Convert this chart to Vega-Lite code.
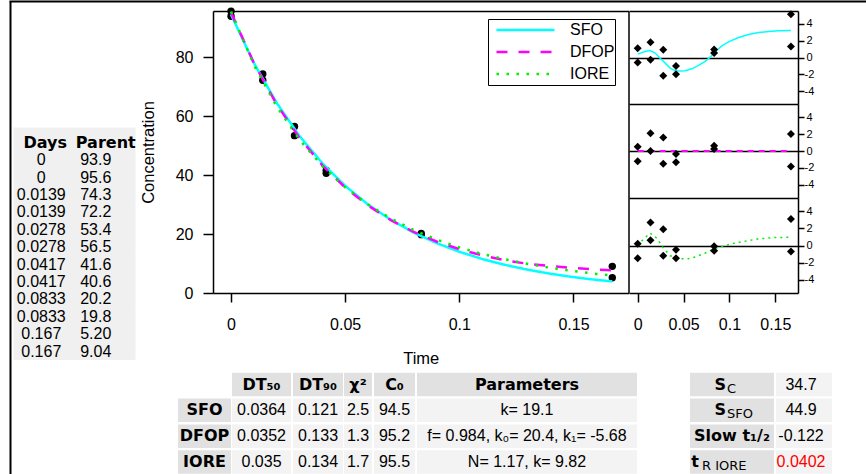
{
  "$schema": "https://vega.github.io/schema/vega-lite/v6.json",
  "width": 866,
  "height": 474,
  "autosize": "none",
  "padding": 0,
  "background": "white",
  "config": {
    "view": {"stroke": null},
    "font": "Liberation Sans",
    "text": {"font": "Liberation Sans", "fontSize": 16, "color": "black"},
    "axis": {
      "labelFont": "Liberation Sans", "titleFont": "Liberation Sans",
      "labelColor": "black", "titleColor": "black", "tickColor": "black", "domainColor": "black",
      "titleFontWeight": "normal", "labelFlush": false, "labelOverlap": false, "labelBound": false,
      "grid": false, "tickWidth": 1.5, "domainWidth": 1.5, "labelFontSize": 16, "titleFontSize": 16.5
    }
  },
  "resolve": {"scale": {"x": "independent", "y": "independent", "color": "independent", "size": "independent", "strokeDash": "independent"}},
  "datasets": {
    "obs": [
      {"i": 1, "Days": 0, "Parent": 93.9},
      {"i": 2, "Days": 0, "Parent": 95.6},
      {"i": 3, "Days": 0.0139, "Parent": 74.3},
      {"i": 4, "Days": 0.0139, "Parent": 72.2},
      {"i": 5, "Days": 0.0278, "Parent": 53.4},
      {"i": 6, "Days": 0.0278, "Parent": 56.5},
      {"i": 7, "Days": 0.0417, "Parent": 41.6},
      {"i": 8, "Days": 0.0417, "Parent": 40.6},
      {"i": 9, "Days": 0.0833, "Parent": 20.2},
      {"i": 10, "Days": 0.0833, "Parent": 19.8},
      {"i": 11, "Days": 0.167, "Parent": 5.20},
      {"i": 12, "Days": 0.167, "Parent": 9.04}
    ],
    "leftHead": [{"col": "Days", "i": 0}, {"col": "Parent", "i": 0}],
    "curves": [
      {"model": "SFO", "t": 0, "C": 94.5}, {"model": "SFO", "t": 0.01, "C": 78.07}, {"model": "SFO", "t": 0.02, "C": 64.5},
      {"model": "SFO", "t": 0.03, "C": 53.28}, {"model": "SFO", "t": 0.04, "C": 44.02}, {"model": "SFO", "t": 0.05, "C": 36.37},
      {"model": "SFO", "t": 0.06, "C": 30.04}, {"model": "SFO", "t": 0.07, "C": 24.82}, {"model": "SFO", "t": 0.08, "C": 20.5},
      {"model": "SFO", "t": 0.09, "C": 16.94}, {"model": "SFO", "t": 0.1, "C": 13.99}, {"model": "SFO", "t": 0.11, "C": 11.56},
      {"model": "SFO", "t": 0.12, "C": 9.55}, {"model": "SFO", "t": 0.13, "C": 7.89}, {"model": "SFO", "t": 0.14, "C": 6.52},
      {"model": "SFO", "t": 0.15, "C": 5.39}, {"model": "SFO", "t": 0.16, "C": 4.45}, {"model": "SFO", "t": 0.167, "C": 3.95},
      {"model": "DFOP", "t": 0, "C": 95.2}, {"model": "DFOP", "t": 0.01, "C": 78.01}, {"model": "DFOP", "t": 0.02, "C": 64.01},
      {"model": "DFOP", "t": 0.03, "C": 52.61}, {"model": "DFOP", "t": 0.04, "C": 43.34}, {"model": "DFOP", "t": 0.05, "C": 35.8},
      {"model": "DFOP", "t": 0.06, "C": 29.69}, {"model": "DFOP", "t": 0.07, "C": 24.73}, {"model": "DFOP", "t": 0.08, "C": 20.72},
      {"model": "DFOP", "t": 0.09, "C": 17.47}, {"model": "DFOP", "t": 0.1, "C": 14.87}, {"model": "DFOP", "t": 0.11, "C": 12.77},
      {"model": "DFOP", "t": 0.12, "C": 11.11}, {"model": "DFOP", "t": 0.13, "C": 9.9}, {"model": "DFOP", "t": 0.14, "C": 9.1},
      {"model": "DFOP", "t": 0.15, "C": 8.5}, {"model": "DFOP", "t": 0.16, "C": 8.0}, {"model": "DFOP", "t": 0.167, "C": 7.7},
      {"model": "IORE", "t": 0, "C": 95.5}, {"model": "IORE", "t": 0.01, "C": 77.46}, {"model": "IORE", "t": 0.02, "C": 63.27},
      {"model": "IORE", "t": 0.03, "C": 52.03}, {"model": "IORE", "t": 0.04, "C": 43.06}, {"model": "IORE", "t": 0.05, "C": 35.86},
      {"model": "IORE", "t": 0.06, "C": 30.02}, {"model": "IORE", "t": 0.07, "C": 25.26}, {"model": "IORE", "t": 0.08, "C": 21.36},
      {"model": "IORE", "t": 0.09, "C": 18.15}, {"model": "IORE", "t": 0.1, "C": 15.48}, {"model": "IORE", "t": 0.11, "C": 13.27},
      {"model": "IORE", "t": 0.12, "C": 11.42}, {"model": "IORE", "t": 0.13, "C": 9.86}, {"model": "IORE", "t": 0.14, "C": 8.54},
      {"model": "IORE", "t": 0.15, "C": 7.43}, {"model": "IORE", "t": 0.16, "C": 6.48}, {"model": "IORE", "t": 0.167, "C": 5.9}
    ],
    "res": [
      {"model": "SFO", "t": 0, "r": -0.6}, {"model": "SFO", "t": 0, "r": 1.1},
      {"model": "SFO", "t": 0.0139, "r": 1.83}, {"model": "SFO", "t": 0.0139, "r": -0.27},
      {"model": "SFO", "t": 0.0278, "r": -2.17}, {"model": "SFO", "t": 0.0278, "r": 0.93},
      {"model": "SFO", "t": 0.0417, "r": -1.01}, {"model": "SFO", "t": 0.0417, "r": -2.01},
      {"model": "SFO", "t": 0.0833, "r": 0.95}, {"model": "SFO", "t": 0.0833, "r": 0.55},
      {"model": "SFO", "t": 0.167, "r": 1.31}, {"model": "SFO", "t": 0.167, "r": 5.15},
      {"model": "DFOP", "t": 0, "r": -1.2}, {"model": "DFOP", "t": 0, "r": 0.5},
      {"model": "DFOP", "t": 0.0139, "r": 2.1}, {"model": "DFOP", "t": 0.0139, "r": 0.0},
      {"model": "DFOP", "t": 0.0278, "r": -1.51}, {"model": "DFOP", "t": 0.0278, "r": 1.59},
      {"model": "DFOP", "t": 0.0417, "r": -0.34}, {"model": "DFOP", "t": 0.0417, "r": -1.34},
      {"model": "DFOP", "t": 0.0833, "r": 0.63}, {"model": "DFOP", "t": 0.0833, "r": 0.23},
      {"model": "DFOP", "t": 0.167, "r": -1.83}, {"model": "DFOP", "t": 0.167, "r": 2.0},
      {"model": "IORE", "t": 0, "r": -1.5}, {"model": "IORE", "t": 0, "r": 0.2},
      {"model": "IORE", "t": 0.0139, "r": 2.7}, {"model": "IORE", "t": 0.0139, "r": 0.6},
      {"model": "IORE", "t": 0.0278, "r": -1.2}, {"model": "IORE", "t": 0.0278, "r": 1.9},
      {"model": "IORE", "t": 0.0417, "r": -0.5}, {"model": "IORE", "t": 0.0417, "r": -1.5},
      {"model": "IORE", "t": 0.0833, "r": -0.1}, {"model": "IORE", "t": 0.0833, "r": -0.6},
      {"model": "IORE", "t": 0.167, "r": -0.7}, {"model": "IORE", "t": 0.167, "r": 3.1}
    ],
    "rcurve": [
      {"model": "SFO", "t": 0, "r": 0.4}, {"model": "SFO", "t": 0.008, "r": 0.72}, {"model": "SFO", "t": 0.0135, "r": 0.84},
      {"model": "SFO", "t": 0.019, "r": 0.53}, {"model": "SFO", "t": 0.0244, "r": -0.08}, {"model": "SFO", "t": 0.03, "r": -0.67},
      {"model": "SFO", "t": 0.0353, "r": -1.27}, {"model": "SFO", "t": 0.0408, "r": -1.58}, {"model": "SFO", "t": 0.0463, "r": -1.62},
      {"model": "SFO", "t": 0.0517, "r": -1.58}, {"model": "SFO", "t": 0.059, "r": -1.35}, {"model": "SFO", "t": 0.0663, "r": -0.95},
      {"model": "SFO", "t": 0.0736, "r": -0.47}, {"model": "SFO", "t": 0.079, "r": 0.04}, {"model": "SFO", "t": 0.0845, "r": 0.72},
      {"model": "SFO", "t": 0.0917, "r": 1.39}, {"model": "SFO", "t": 0.099, "r": 1.87}, {"model": "SFO", "t": 0.1099, "r": 2.38},
      {"model": "SFO", "t": 0.1208, "r": 2.74}, {"model": "SFO", "t": 0.1317, "r": 2.98}, {"model": "SFO", "t": 0.1426, "r": 3.1},
      {"model": "SFO", "t": 0.1535, "r": 3.18}, {"model": "SFO", "t": 0.167, "r": 3.21},
      {"model": "DFOP", "t": 0, "r": 0}, {"model": "DFOP", "t": 0.04, "r": 0}, {"model": "DFOP", "t": 0.08, "r": 0},
      {"model": "DFOP", "t": 0.12, "r": 0}, {"model": "DFOP", "t": 0.167, "r": 0},
      {"model": "IORE", "t": 0, "r": -0.04}, {"model": "IORE", "t": 0.0062, "r": 0.74}, {"model": "IORE", "t": 0.0135, "r": 1.44},
      {"model": "IORE", "t": 0.0207, "r": 0.86}, {"model": "IORE", "t": 0.028, "r": -0.3}, {"model": "IORE", "t": 0.0353, "r": -1.2},
      {"model": "IORE", "t": 0.0444, "r": -1.51}, {"model": "IORE", "t": 0.0535, "r": -1.58}, {"model": "IORE", "t": 0.0626, "r": -1.35},
      {"model": "IORE", "t": 0.0736, "r": -0.88}, {"model": "IORE", "t": 0.0826, "r": -0.42}, {"model": "IORE", "t": 0.0917, "r": -0.12},
      {"model": "IORE", "t": 0.1026, "r": 0.2}, {"model": "IORE", "t": 0.1172, "r": 0.51}, {"model": "IORE", "t": 0.1317, "r": 0.78},
      {"model": "IORE", "t": 0.1499, "r": 0.93}, {"model": "IORE", "t": 0.167, "r": 0.97}
    ],
    "ptab": [
      {"r": 0, "k": 1, "text": "DT₅₀"}, {"r": 0, "k": 2, "text": "DT₉₀"}, {"r": 0, "k": 3, "text": "χ²"},
      {"r": 0, "k": 4, "text": "C₀"}, {"r": 0, "k": 5, "text": "Parameters"},
      {"r": 1, "k": 0, "text": "SFO"}, {"r": 1, "k": 1, "text": "0.0364"}, {"r": 1, "k": 2, "text": "0.121"},
      {"r": 1, "k": 3, "text": "2.5"}, {"r": 1, "k": 4, "text": "94.5"}, {"r": 1, "k": 5, "text": "k= 19.1"},
      {"r": 2, "k": 0, "text": "DFOP"}, {"r": 2, "k": 1, "text": "0.0352"}, {"r": 2, "k": 2, "text": "0.133"},
      {"r": 2, "k": 3, "text": "1.3"}, {"r": 2, "k": 4, "text": "95.2"}, {"r": 2, "k": 5, "text": "f= 0.984, k₀= 20.4, k₁= -5.68"},
      {"r": 3, "k": 0, "text": "IORE"}, {"r": 3, "k": 1, "text": "0.035"}, {"r": 3, "k": 2, "text": "0.134"},
      {"r": 3, "k": 3, "text": "1.7"}, {"r": 3, "k": 4, "text": "95.5"}, {"r": 3, "k": 5, "text": "N= 1.17, k= 9.82"}
    ],
    "stab": [
      {"r": 0, "k": 0, "text": "S", "sub": "C"}, {"r": 0, "k": 1, "text": "34.7"},
      {"r": 1, "k": 0, "text": "S", "sub": "SFO"}, {"r": 1, "k": 1, "text": "44.9"},
      {"r": 2, "k": 0, "text": "Slow t₁/₂", "sub": ""}, {"r": 2, "k": 1, "text": "-0.122"},
      {"r": 3, "k": 0, "text": "t", "sub": "R IORE"}, {"r": 3, "k": 1, "text": "0.0402"}
    ]
  },
  "layer": [
    {
      "data": {"name": "obs"},
      "mark": {"type": "point", "opacity": 0},
      "encoding": {
        "x": {"field": "Days", "type": "quantitative", "scale": {"domain": [0, 1], "range": [9, 866], "nice": false, "zero": false},
              "axis": {"orient": "top", "offset": -1, "domainWidth": 2, "ticks": false, "labels": false, "title": null}},
        "y": {"field": "Parent", "type": "quantitative", "scale": {"domain": [0, 100], "range": [474, 1], "nice": false, "zero": false},
              "axis": {"orient": "left", "offset": -10, "domainWidth": 2, "ticks": false, "labels": false, "title": null}}
      }
    },
    {
      "data": {"name": "obs"},
      "transform": [{"fold": ["Days", "Parent"], "as": ["col", "v"]}],
      "mark": {"type": "rect", "fill": "#f0f0f0", "stroke": "#f0f0f0", "strokeWidth": 1},
      "encoding": {
        "x": {"field": "col", "type": "nominal", "scale": {"type": "band", "domain": ["Days", "Parent"], "range": [14, 135], "paddingInner": 0, "paddingOuter": 0}, "axis": null},
        "y": {"field": "i", "type": "ordinal", "scale": {"type": "band", "domain": [1, 2, 3, 4, 5, 6, 7, 8, 9, 10, 11, 12], "range": [151.4, 359.5], "paddingInner": 0, "paddingOuter": 0}, "axis": null}
      }
    },
    {
      "data": {"name": "leftHead"},
      "mark": {"type": "rect", "fill": "#f0f0f0", "stroke": "#f0f0f0", "strokeWidth": 1},
      "encoding": {
        "x": {"field": "col", "type": "nominal", "scale": {"type": "band", "domain": ["Days", "Parent"], "range": [14, 135], "paddingInner": 0, "paddingOuter": 0}, "axis": null},
        "y": {"field": "i", "type": "ordinal", "scale": {"type": "band", "domain": [0], "range": [128, 151.4], "paddingInner": 0, "paddingOuter": 0}, "axis": null}
      }
    },
    {
      "data": {"name": "leftHead"},
      "mark": {"type": "text", "font": "DejaVu Sans", "fontWeight": "bold", "fontSize": 16, "dx": 1},
      "encoding": {
        "text": {"field": "col", "type": "nominal"},
        "x": {"field": "col", "type": "nominal", "scale": {"type": "band", "domain": ["Days", "Parent"], "range": [14, 135], "paddingInner": 0, "paddingOuter": 0}, "axis": null},
        "y": {"field": "i", "type": "ordinal", "scale": {"type": "band", "domain": [0, 1, 2, 3, 4, 5, 6, 7, 8, 9, 10, 11, 12], "range": [134, 360.2], "paddingInner": 0, "paddingOuter": 0}, "axis": null}
      }
    },
    {
      "data": {"name": "obs"},
      "transform": [{"fold": ["Days", "Parent"], "as": ["col", "v"]}, {"filter": "datum.col == 'Days'"}],
      "mark": {"type": "text", "font": "Liberation Sans", "fontSize": 16, "dx": -3},
      "encoding": {
        "text": {"field": "v", "type": "quantitative", "format": ".3~g"},
        "x": {"field": "col", "type": "nominal", "scale": {"type": "band", "domain": ["Days", "Parent"], "range": [14, 135], "paddingInner": 0, "paddingOuter": 0}, "axis": null},
        "y": {"field": "i", "type": "ordinal", "scale": {"type": "band", "domain": [0, 1, 2, 3, 4, 5, 6, 7, 8, 9, 10, 11, 12], "range": [134, 360.2], "paddingInner": 0, "paddingOuter": 0}, "axis": null}
      }
    },
    {
      "data": {"name": "obs"},
      "transform": [{"fold": ["Days", "Parent"], "as": ["col", "v"]}, {"filter": "datum.col == 'Parent'"}],
      "mark": {"type": "text", "font": "Liberation Sans", "fontSize": 16, "dx": -9},
      "encoding": {
        "text": {"field": "v", "type": "quantitative", "format": ".3g"},
        "x": {"field": "col", "type": "nominal", "scale": {"type": "band", "domain": ["Days", "Parent"], "range": [14, 135], "paddingInner": 0, "paddingOuter": 0}, "axis": null},
        "y": {"field": "i", "type": "ordinal", "scale": {"type": "band", "domain": [0, 1, 2, 3, 4, 5, 6, 7, 8, 9, 10, 11, 12], "range": [134, 360.2], "paddingInner": 0, "paddingOuter": 0}, "axis": null}
      }
    },
    {
      "data": {"name": "obs"},
      "mark": {"type": "circle", "size": 55, "opacity": 1, "color": "black"},
      "encoding": {
        "x": {"field": "Days", "type": "quantitative", "scale": {"domain": [-0.0079, 0.1741], "range": [213, 628.5], "nice": false, "zero": false},
              "axis": {"orient": "bottom", "offset": -181, "values": [0, 0.05, 0.1, 0.15], "labelExpr": "datum.value + ''", "tickSize": 9, "labelPadding": 14,
                       "title": "Time", "titleY": 65, "titleBaseline": "middle"}},
        "y": {"field": "Parent", "type": "quantitative", "scale": {"domain": [0, 95.7], "range": [293, 11], "nice": false, "zero": false},
              "axis": {"orient": "left", "offset": -213, "values": [0, 20, 40, 60, 80], "tickSize": 10, "labelPadding": 10,
                       "title": "Concentration", "titleX": -65, "titleBaseline": "middle"}}
      }
    },
    {
      "data": {"name": "curves"},
      "mark": {"type": "line", "strokeWidth": 2.5},
      "encoding": {
        "x": {"field": "t", "type": "quantitative", "scale": {"domain": [-0.0079, 0.1741], "range": [213, 628.5], "nice": false, "zero": false},
              "axis": {"orient": "top", "offset": -11, "ticks": false, "labels": false, "title": null}},
        "y": {"field": "C", "type": "quantitative", "scale": {"domain": [0, 95.7], "range": [293, 11], "nice": false, "zero": false},
              "axis": {"orient": "right", "offset": -237.5, "ticks": false, "labels": false, "title": null}},
        "color": {"field": "model", "type": "nominal",
                  "scale": {"domain": ["SFO", "DFOP", "IORE"], "range": ["#00FFFF", "#FF00FF", "#00EE00"]},
                  "legend": {"orient": "none", "legendX": 488, "legendY": 19, "title": null, "symbolType": "stroke", "symbolSize": 3364,
                             "symbolStrokeWidth": 2.5, "clipHeight": 22, "padding": 0, "rowPadding": 0, "labelFont": "Liberation Sans",
                             "labelFontSize": 16, "labelColor": "black", "labelOffset": 14, "symbolOffset": 7, "strokeColor": "black",
                             "fillColor": "white", "labelExpr": "datum.label + '   '", "labelLimit": 0}},
        "strokeDash": {"field": "model", "type": "nominal",
                       "scale": {"domain": ["SFO", "DFOP", "IORE"], "range": [[1, 0], [11, 11], [2.5, 7.5]]}}
      }
    },
    {
      "data": {"name": "rcurve"},
      "transform": [{"filter": "datum.model == 'SFO'"}],
      "mark": {"type": "line", "color": "#00FFFF", "strokeWidth": 1.5},
      "encoding": {
        "x": {"field": "t", "type": "quantitative", "scale": {"domain": [-0.0095, 0.1747], "range": [629, 798], "nice": false, "zero": false},
              "axis": {"orient": "top", "offset": -11, "ticks": false, "labels": false, "title": null}},
        "y": {"field": "r", "type": "quantitative", "scale": {"domain": [-5.55, 5.55], "range": [104, 11], "nice": false, "zero": false},
              "axis": {"orient": "left", "offset": -629, "domain": false, "ticks": false, "labels": false, "title": null, "grid": true, "values": [0], "gridColor": "black", "gridWidth": 1.5, "gridOpacity": 1}}
      }
    },
    {
      "data": {"name": "res"},
      "transform": [{"filter": "datum.model == 'SFO'"}],
      "mark": {"type": "point", "shape": "diamond", "filled": true, "color": "black", "size": 64, "opacity": 1},
      "encoding": {
        "x": {"field": "t", "type": "quantitative", "scale": {"domain": [-0.0095, 0.1747], "range": [629, 798], "nice": false, "zero": false}, "axis": null},
        "y": {"field": "r", "type": "quantitative", "scale": {"domain": [-5.55, 5.55], "range": [104, 11], "nice": false, "zero": false},
              "axis": {"orient": "right", "offset": -68, "values": [-4, -2, 0, 2, 4], "labelExpr": "datum.value + ''", "tickSize": 6, "labelFontSize": 11, "labelAlign": "center", "labelPadding": 5, "title": null}}
      }
    },
    {
      "data": {"name": "rcurve"},
      "transform": [{"filter": "datum.model == 'DFOP'"}],
      "mark": {"type": "line", "color": "#FF00FF", "strokeWidth": 2, "strokeDash": [6, 5]},
      "encoding": {
        "x": {"field": "t", "type": "quantitative", "scale": {"domain": [-0.0095, 0.1747], "range": [629, 798], "nice": false, "zero": false},
              "axis": {"orient": "top", "offset": -104, "ticks": false, "labels": false, "title": null}},
        "y": {"field": "r", "type": "quantitative", "scale": {"domain": [-5.55, 5.55], "range": [198, 104], "nice": false, "zero": false},
              "axis": {"orient": "left", "offset": -629, "domain": false, "ticks": false, "labels": false, "title": null, "grid": true, "values": [0], "gridColor": "black", "gridWidth": 1.5, "gridOpacity": 1}}
      }
    },
    {
      "data": {"name": "res"},
      "transform": [{"filter": "datum.model == 'DFOP'"}],
      "mark": {"type": "point", "shape": "diamond", "filled": true, "color": "black", "size": 64, "opacity": 1},
      "encoding": {
        "x": {"field": "t", "type": "quantitative", "scale": {"domain": [-0.0095, 0.1747], "range": [629, 798], "nice": false, "zero": false}, "axis": null},
        "y": {"field": "r", "type": "quantitative", "scale": {"domain": [-5.55, 5.55], "range": [198, 104], "nice": false, "zero": false},
              "axis": {"orient": "right", "offset": -68, "values": [-4, -2, 0, 2, 4], "labelExpr": "datum.value + ''", "tickSize": 6, "labelFontSize": 11, "labelAlign": "center", "labelPadding": 5, "title": null}}
      }
    },
    {
      "data": {"name": "rcurve"},
      "transform": [{"filter": "datum.model == 'IORE'"}],
      "mark": {"type": "line", "color": "#00EE00", "strokeWidth": 1.5, "strokeDash": [2, 4]},
      "encoding": {
        "x": {"field": "t", "type": "quantitative", "scale": {"domain": [-0.0095, 0.1747], "range": [629, 798], "nice": false, "zero": false},
              "axis": {"orient": "top", "offset": -198, "ticks": false, "labels": false, "title": null}},
        "y": {"field": "r", "type": "quantitative", "scale": {"domain": [-5.55, 5.55], "range": [293, 198], "nice": false, "zero": false},
              "axis": {"orient": "left", "offset": -629, "domain": false, "ticks": false, "labels": false, "title": null, "grid": true, "values": [0], "gridColor": "black", "gridWidth": 1.5, "gridOpacity": 1}}
      }
    },
    {
      "data": {"name": "res"},
      "transform": [{"filter": "datum.model == 'IORE'"}],
      "mark": {"type": "point", "shape": "diamond", "filled": true, "color": "black", "size": 64, "opacity": 1},
      "encoding": {
        "x": {"field": "t", "type": "quantitative", "scale": {"domain": [-0.0095, 0.1747], "range": [629, 798], "nice": false, "zero": false},
              "axis": {"orient": "bottom", "offset": -181, "values": [0, 0.05, 0.1, 0.15], "labelExpr": "datum.value + ''", "tickSize": 9, "labelPadding": 14, "title": null}},
        "y": {"field": "r", "type": "quantitative", "scale": {"domain": [-5.55, 5.55], "range": [293, 198], "nice": false, "zero": false},
              "axis": {"orient": "right", "offset": -68, "values": [-4, -2, 0, 2, 4], "labelExpr": "datum.value + ''", "tickSize": 6, "labelFontSize": 11, "labelAlign": "center", "labelPadding": 5, "title": null}}
      }
    },
    {
      "data": {"name": "ptab"},
      "mark": {"type": "tick", "orient": "horizontal", "thickness": 23.5, "opacity": 1},
      "encoding": {
        "x": {"field": "k", "type": "quantitative", "scale": {"domain": [0, 1, 2, 3, 4, 5], "range": [204.5, 261.5, 318, 358, 394.5, 527], "nice": false, "zero": false}, "axis": null},
        "y": {"field": "r", "type": "quantitative", "scale": {"domain": [0, 3], "range": [384.5, 462], "nice": false, "zero": false}, "axis": null},
        "size": {"field": "k", "type": "quantitative", "scale": {"domain": [0, 1, 2, 3, 4, 5], "range": [53, 59, 50, 28, 41, 220], "nice": false, "zero": false}, "legend": null},
        "color": {"condition": {"test": "datum.r == 0 || datum.k == 0", "value": "#e1e1e1"}, "value": "#f3f3f3"}
      }
    },
    {
      "data": {"name": "ptab"},
      "transform": [{"filter": "datum.r == 0 || datum.k == 0"}],
      "mark": {"type": "text", "font": "DejaVu Sans", "fontWeight": "bold", "fontSize": 16},
      "encoding": {
        "text": {"field": "text", "type": "nominal"},
        "x": {"field": "k", "type": "quantitative", "scale": {"domain": [0, 1, 2, 3, 4, 5], "range": [204.5, 261.5, 318, 358, 394.5, 527], "nice": false, "zero": false}, "axis": null},
        "y": {"field": "r", "type": "quantitative", "scale": {"domain": [0, 3], "range": [384.5, 462], "nice": false, "zero": false}, "axis": null}
      }
    },
    {
      "data": {"name": "ptab"},
      "transform": [{"filter": "datum.r > 0 && datum.k > 0"}],
      "mark": {"type": "text", "font": "Liberation Sans, DejaVu Sans", "fontSize": 16},
      "encoding": {
        "text": {"field": "text", "type": "nominal"},
        "x": {"field": "k", "type": "quantitative", "scale": {"domain": [0, 1, 2, 3, 4, 5], "range": [204.5, 261.5, 318, 358, 394.5, 527], "nice": false, "zero": false}, "axis": null},
        "y": {"field": "r", "type": "quantitative", "scale": {"domain": [0, 3], "range": [384.5, 462], "nice": false, "zero": false}, "axis": null}
      }
    },
    {
      "data": {"name": "stab"},
      "mark": {"type": "tick", "orient": "horizontal", "thickness": 23.5, "opacity": 1},
      "encoding": {
        "x": {"field": "k", "type": "quantitative", "scale": {"domain": [0, 1], "range": [732, 804], "nice": false, "zero": false}, "axis": null},
        "y": {"field": "r", "type": "quantitative", "scale": {"domain": [0, 3], "range": [384.5, 462], "nice": false, "zero": false}, "axis": null},
        "size": {"field": "k", "type": "quantitative", "scale": {"domain": [0, 1], "range": [84, 56], "nice": false, "zero": false}, "legend": null},
        "color": {"condition": {"test": "datum.k == 0", "value": "#e1e1e1"}, "value": "#f3f3f3"}
      }
    },
    {
      "data": {"name": "stab"},
      "transform": [{"filter": "datum.k == 1"}],
      "mark": {"type": "text", "font": "Liberation Sans", "fontSize": 16, "dx": -3},
      "encoding": {
        "text": {"field": "text", "type": "nominal"},
        "color": {"condition": {"test": "datum.r == 3", "value": "#ff0000"}, "value": "black"},
        "x": {"field": "k", "type": "quantitative", "scale": {"domain": [0, 1], "range": [732, 804], "nice": false, "zero": false}, "axis": null},
        "y": {"field": "r", "type": "quantitative", "scale": {"domain": [0, 3], "range": [384.5, 462], "nice": false, "zero": false}, "axis": null}
      }
    },
    {
      "data": {"name": "stab"},
      "transform": [{"filter": "datum.k == 0 && datum.r == 2"}],
      "mark": {"type": "text", "font": "DejaVu Sans", "fontWeight": "bold", "fontSize": 16},
      "encoding": {
        "text": {"field": "text", "type": "nominal"},
        "x": {"field": "k", "type": "quantitative", "scale": {"domain": [0, 1], "range": [732, 804], "nice": false, "zero": false}, "axis": null},
        "y": {"field": "r", "type": "quantitative", "scale": {"domain": [0, 3], "range": [384.5, 462], "nice": false, "zero": false}, "axis": null}
      }
    },
    {
      "data": {"name": "stab"},
      "transform": [{"filter": "datum.k == 0 && datum.r < 2"}],
      "mark": {"type": "text", "font": "DejaVu Sans", "fontWeight": "bold", "fontSize": 16, "align": "right", "dx": -6},
      "encoding": {
        "text": {"field": "text", "type": "nominal"},
        "x": {"field": "k", "type": "quantitative", "scale": {"domain": [0, 1], "range": [732, 804], "nice": false, "zero": false}, "axis": null},
        "y": {"field": "r", "type": "quantitative", "scale": {"domain": [0, 3], "range": [384.5, 462], "nice": false, "zero": false}, "axis": null}
      }
    },
    {
      "data": {"name": "stab"},
      "transform": [{"filter": "datum.k == 0 && datum.r < 2"}],
      "mark": {"type": "text", "font": "DejaVu Sans", "fontSize": 13, "align": "left", "dx": -5, "dy": 4},
      "encoding": {
        "text": {"field": "sub", "type": "nominal"},
        "x": {"field": "k", "type": "quantitative", "scale": {"domain": [0, 1], "range": [732, 804], "nice": false, "zero": false}, "axis": null},
        "y": {"field": "r", "type": "quantitative", "scale": {"domain": [0, 3], "range": [384.5, 462], "nice": false, "zero": false}, "axis": null}
      }
    },
    {
      "data": {"name": "stab"},
      "transform": [{"filter": "datum.k == 0 && datum.r == 3"}],
      "mark": {"type": "text", "font": "DejaVu Sans", "fontWeight": "bold", "fontSize": 16, "align": "right", "dx": -33},
      "encoding": {
        "text": {"field": "text", "type": "nominal"},
        "x": {"field": "k", "type": "quantitative", "scale": {"domain": [0, 1], "range": [732, 804], "nice": false, "zero": false}, "axis": null},
        "y": {"field": "r", "type": "quantitative", "scale": {"domain": [0, 3], "range": [384.5, 462], "nice": false, "zero": false}, "axis": null}
      }
    },
    {
      "data": {"name": "stab"},
      "transform": [{"filter": "datum.k == 0 && datum.r == 3"}],
      "mark": {"type": "text", "font": "DejaVu Sans", "fontSize": 13, "align": "left", "dx": -30, "dy": 4},
      "encoding": {
        "text": {"field": "sub", "type": "nominal"},
        "x": {"field": "k", "type": "quantitative", "scale": {"domain": [0, 1], "range": [732, 804], "nice": false, "zero": false}, "axis": null},
        "y": {"field": "r", "type": "quantitative", "scale": {"domain": [0, 3], "range": [384.5, 462], "nice": false, "zero": false}, "axis": null}
      }
    }
  ]
}
